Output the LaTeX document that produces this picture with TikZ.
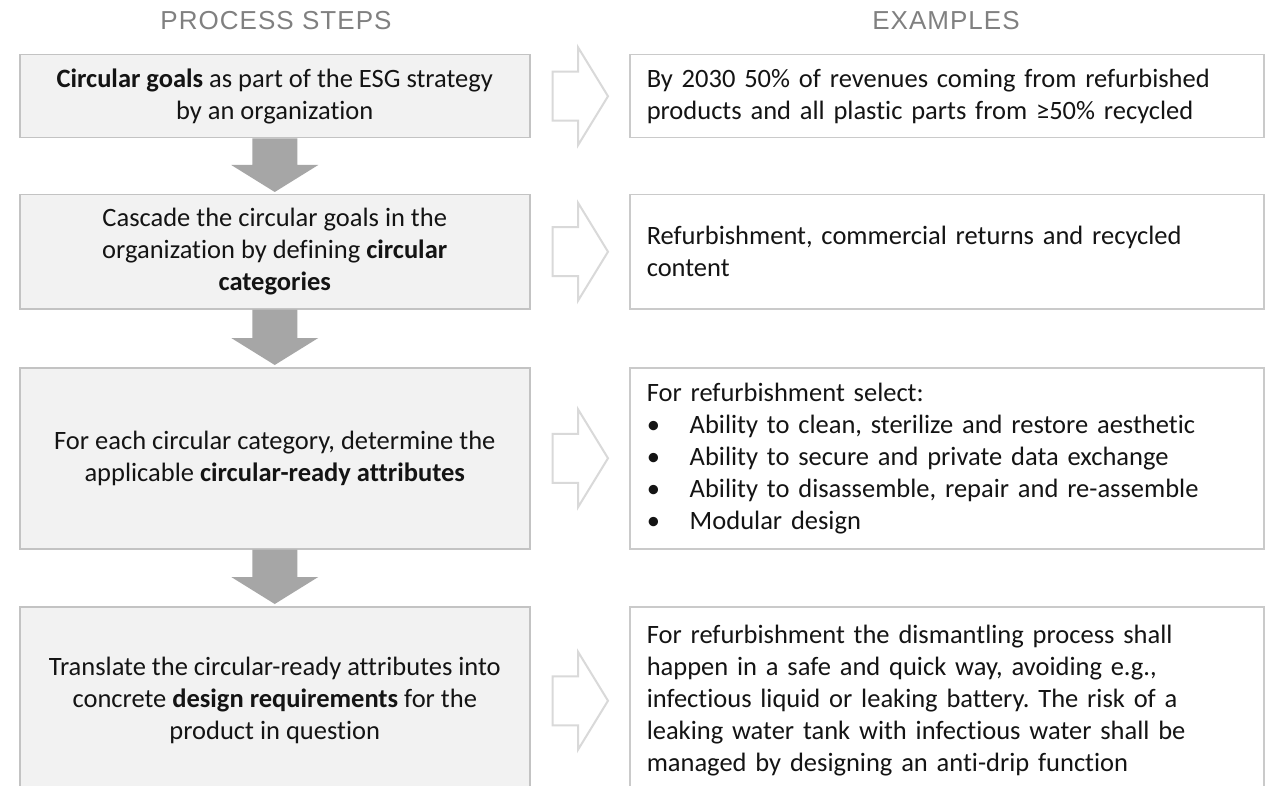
\documentclass[tikz,border=0pt]{standalone}
\usepackage{fontspec}
\setmainfont{Carlito}[Ligatures=NoCommon]
\newfontfamily\headfont{Liberation Sans}[LetterSpace=4]
\usetikzlibrary{calc}
\definecolor{boxfill}{HTML}{F2F2F2}
\definecolor{boxline}{HTML}{C3C3C3}
\definecolor{rline}{HTML}{CACACA}
\definecolor{darrfill}{HTML}{A6A6A6}
\definecolor{harrline}{HTML}{D9D9D9}
\definecolor{headcol}{HTML}{808080}
\definecolor{txtcol}{HTML}{141414}
\newcommand\mydownarrow[2]{%
  \fill[downarr] let \p1=(#1.south), \p2=(#2.north) in
    (\x1-22.5pt,\y1) -- (\x1-22.5pt,\y2+29pt) -- (\x1-43.5pt,\y2+29pt) --
    (\x1,\y2+2pt) -- (\x1+43.5pt,\y2+29pt) -- (\x1+22.5pt,\y2+29pt) --
    (\x1+22.5pt,\y1) -- cycle;}
\newcommand\myrightarrow[2]{%
  \draw[hollowarr] let \p1=(#1.east), \p2=(#2.west) in
    (\x1+22pt,\y1+24.5pt) -- (\x2-51pt,\y1+24.5pt) -- (\x2-51pt,\y1+49pt) --
    (\x2-21pt,\y1) -- (\x2-51pt,\y1-49pt) -- (\x2-51pt,\y1-24.5pt) --
    (\x1+22pt,\y1-24.5pt) -- cycle;}
\tikzset{
  bodyfont/.style={font=\fontsize{26.5}{32}\selectfont\frenchspacing, text=txtcol},
  lbox/.style={draw=boxline, fill=boxfill, line width=1.5pt, minimum width=510pt,
    align=center, inner sep=0pt, anchor=north west, bodyfont},
  rbox/.style={draw=rline, fill=white, line width=1.5pt, minimum width=634pt,
    text width=600pt, align=left, inner xsep=17pt, inner ysep=0pt,
    anchor=north west, bodyfont},
  headstyle/.style={font=\headfont\fontsize{26}{30}\selectfont, text=headcol, anchor=base},
  downarr/.style={fill=darrfill},
  hollowarr/.style={draw=harrline, line width=2pt, fill=white, line join=miter},
}
\newcommand\bul{\makebox[43pt][l]{•}}
\begin{document}
\begin{tikzpicture}[x=1pt,y=-1pt]
\useasboundingbox (0,0) rectangle (1266,786);
\clip (0,0) rectangle (1266,786);
\fill[white] (0,0) rectangle (1266,786);
\node[headstyle] (H1) at (276,30) {PROCESS STEPS};
\node[headstyle] (H2) at (946,30) {EXAMPLES};
\node[lbox, minimum height=83pt] (L1) at (19,54)
  {\textbf{Circular goals} as part of the ESG strategy\\by an organization};
\node[lbox, minimum height=114pt] (L2) at (19,194)
  {Cascade the circular goals in the\\organization by defining \textbf{circular}\\\textbf{categories}};
\node[lbox, minimum height=181pt] (L3) at (19,367)
  {For each circular category, determine the\\applicable \textbf{circular-ready attributes}};
\node[lbox, minimum height=188pt] (L4) at (19,606)
  {Translate the circular-ready attributes into\\concrete \textbf{design requirements} for the\\product in question};
\node[rbox, minimum height=83pt] (R1) at (629,54)
  {By 2030 50\% of revenues coming from refurbished\\products and all plastic parts from ≥50\% recycled};
\node[rbox, minimum height=114pt] (R2) at (629,194)
  {Refurbishment, commercial returns and recycled\\content};
\node[rbox, minimum height=181pt] (R3) at (629,367)
  {For refurbishment select:\\
   \bul Ability to clean, sterilize and restore aesthetic\\
   \bul Ability to secure and private data exchange\\
   \bul Ability to disassemble, repair and re-assemble\\
   \bul Modular design};
\node[rbox, minimum height=188pt] (R4) at (629,606)
  {For refurbishment the dismantling process shall\\
   happen in a safe and quick way, avoiding e.g.,\\
   infectious liquid or leaking battery. The risk of a\\
   leaking water tank with infectious water shall be\\
   managed by designing an anti-drip function};
\mydownarrow{L1}{L2}
\mydownarrow{L2}{L3}
\mydownarrow{L3}{L4}
\myrightarrow{L1}{R1}
\myrightarrow{L2}{R2}
\myrightarrow{L3}{R3}
\myrightarrow{L4}{R4}
\end{tikzpicture}
\end{document}
